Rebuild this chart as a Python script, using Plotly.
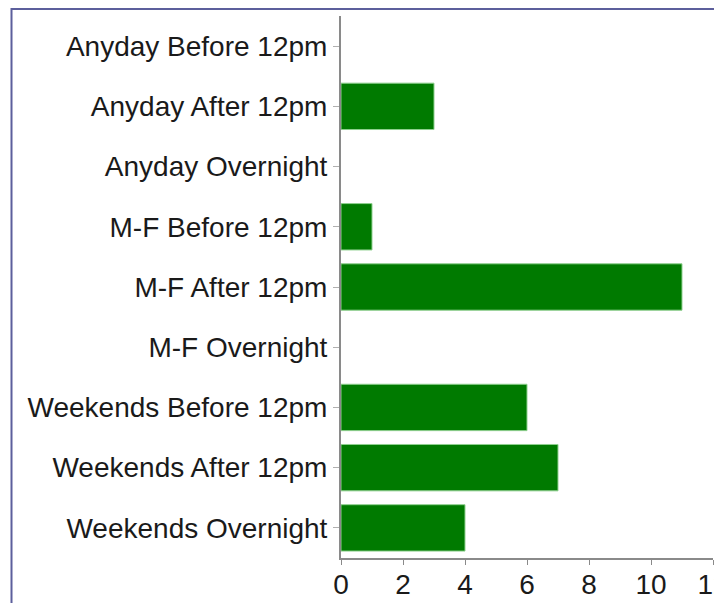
import plotly.graph_objects as go

categories = [
    "Anyday Before 12pm",
    "Anyday After 12pm",
    "Anyday Overnight",
    "M-F Before 12pm",
    "M-F After 12pm",
    "M-F Overnight",
    "Weekends Before 12pm",
    "Weekends After 12pm",
    "Weekends Overnight",
]
counts = [0, 3, 0, 1, 11, 0, 6, 7, 4]
x_ticks = [0, 2, 4, 6, 8, 10, 12]

# page body has an 8px margin, so figure coords = page coords - 8
W, H = 714, 595
L, R, T, B = 333, 714 - 705, 8, 595 - 550

fig = go.Figure(
    go.Bar(
        x=counts,
        y=categories,
        orientation="h",
        marker=dict(
            color="#007a00",
            line=dict(color="#8fd08f", width=[1 if v > 0 else 0 for v in counts]),
        ),
    )
)

FONT = dict(family="Liberation Sans, Arial, sans-serif", size=28, color="#1a1a1a")

pw = W - L - R
ph = H - T - B

fig.update_layout(
    width=W,
    height=H,
    margin=dict(l=L, r=R, t=T, b=B, autoexpand=False),
    paper_bgcolor="white",
    plot_bgcolor="white",
    bargap=0.23,
    showlegend=False,
    font=FONT,
    xaxis=dict(
        range=[0, 12],
        tickvals=x_ticks,
        ticktext=[str(v) for v in x_ticks],
        ticklabeloverflow="allow",
        ticklabelstandoff=-5,
        automargin=False,
        showgrid=False,
        zeroline=False,
        showline=True,
        linecolor="#8a8a8a",
        linewidth=2,
        ticks="outside",
        ticklen=5,
        tickcolor="#8a8a8a",
        tickfont=FONT,
    ),
    yaxis=dict(
        categoryorder="array",
        categoryarray=categories,
        autorange="reversed",
        automargin=False,
        showgrid=False,
        zeroline=False,
        showline=True,
        linecolor="#8a8a8a",
        linewidth=2,
        ticks="outside",
        ticklen=6,
        tickcolor="#b0b0b0",
        tickfont=FONT,
    ),
    shapes=[
        dict(
            type="rect",
            xref="paper",
            yref="paper",
            x0=(3.5 - L) / pw,
            x1=1.3,
            y0=-0.3,
            y1=(H - B - 1) / ph,
            line=dict(color="#5c5f9c", width=2),
            fillcolor="rgba(0,0,0,0)",
            layer="below",
        )
    ],
)

fig.write_html("out.html")
